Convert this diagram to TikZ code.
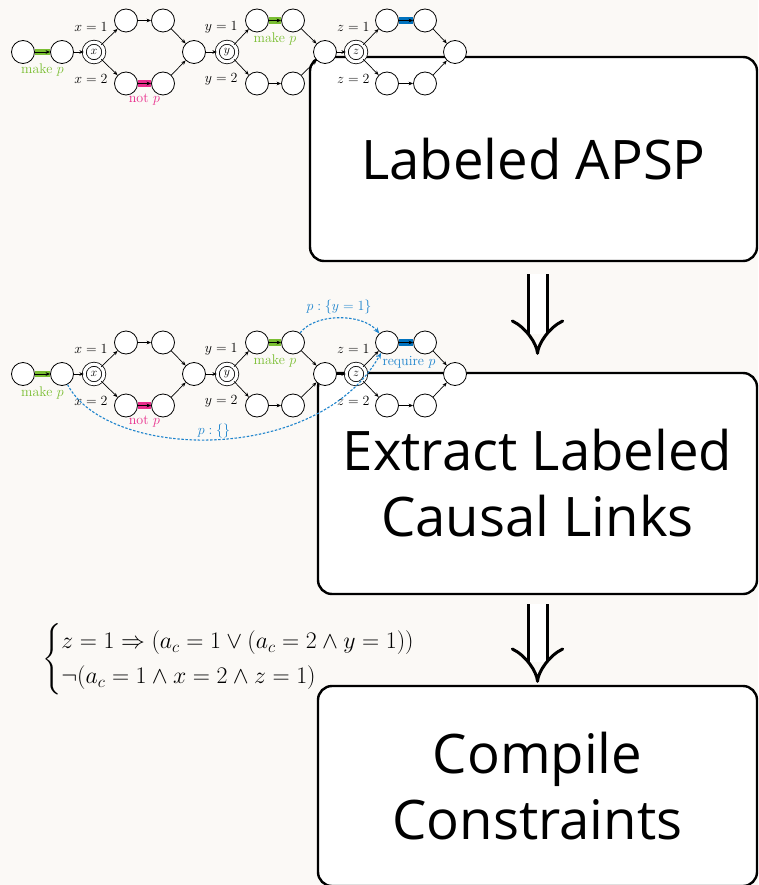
\RequirePackage{fix-cm}
\documentclass[tikz,border=0pt]{standalone}
\usepackage{amsmath,amssymb}
\usepackage{fontspec}
\newfontfamily\boxfont{Open Sans}
\usetikzlibrary{arrows.meta}

\definecolor{mkgreen}{RGB}{122,190,50}
\definecolor{notpink}{RGB}{232,45,140}
\definecolor{reqblue}{RGB}{0,114,190}
\definecolor{linkblue}{RGB}{30,132,205}
\definecolor{paper}{RGB}{251,249,246}

\begin{document}
\begin{tikzpicture}[x=1pt, y=-1pt,
  vtx/.style={circle, draw, fill=white, line width=0.8pt, minimum size=23pt, inner sep=0pt},
  varnode/.style={vtx, double, double distance=3.2pt, minimum size=19.5pt, font=\fontsize{12}{12}\selectfont},
  arr/.style={-{Stealth[length=4.5pt, width=3.6pt]}, line width=0.7pt},
  cbar/.style={line width=6.5pt, #1},
  lab/.style={font=\fontsize{14}{16}\selectfont},
  clink/.style={dash pattern=on 2.5pt off 1.6pt, line width=1.1pt, linkblue, -{Stealth[length=6pt, width=5pt]}},
  stage/.style={draw, fill=white, rounded corners=14pt, line width=2.4pt, align=center, font=\boxfont\fontsize{54.5}{66}\selectfont},
  bigimp/.style={double, double distance=16pt, line width=3pt, -{Implies}}]

 \clip (0,0) rectangle (758,885); % page
 \fill[paper] (0,0) rectangle (758,885);

 \node[stage, minimum width=447pt, minimum height=204pt] (b1) at (533.5,159) {Labeled APSP};
 \node[stage, minimum width=439pt, minimum height=221pt] (b2) at (537.5,483.5) {Extract Labeled\\Causal Links};
 \node[stage, minimum width=439pt, minimum height=200pt] (b3) at (537.5,786) {Compile\\Constraints};

 \draw[bigimp, shorten <=12pt, shorten >=17pt] (b2.north |- b1.south) -- (b2.north);
 \draw[bigimp, shorten <=9pt, shorten >=2pt] (b3.north |- b2.south) -- (b3.north);

 \node[anchor=west, inner sep=0pt, font=\fontsize{23.8}{35}\selectfont] (eq) at (42,659)
  {$\left\{\begin{array}{@{}l@{}}
    z=1 \Rightarrow (a_c=1 \lor (a_c=2 \land y=1))\\
    \lnot(a_c=1 \land x=2 \land z=1)
   \end{array}\right.$};

 % t = top graph, m = graph with links
 \foreach \g/\c in {t/52, m/374} {
  \node[vtx] (\g A) at (23,\c) {};
  \node[vtx] (\g B) at (62,\c) {};
  \node[varnode] (\g X) at (94,\c) {$x$};
  \node[vtx] (\g Xu1) at (126,{\c-31.5}) {};
  \node[vtx] (\g Xu2) at (163,{\c-31.5}) {};
  \node[vtx] (\g Xl1) at (126,{\c+31.5}) {};
  \node[vtx] (\g Xl2) at (163,{\c+31.5}) {};
  \node[vtx] (\g Xj) at (194,\c) {};
  \node[varnode] (\g Y) at (227,\c) {$y$};
  \node[vtx] (\g Yu1) at (257,{\c-31.5}) {};
  \node[vtx] (\g Yu2) at (293,{\c-31.5}) {};
  \node[vtx] (\g Yl1) at (257,{\c+31.5}) {};
  \node[vtx] (\g Yl2) at (293,{\c+31.5}) {};
  \node[vtx] (\g Yj) at (325,\c) {};
  \node[varnode] (\g Z) at (356,\c) {$z$};
  \node[vtx] (\g Zu1) at (387,{\c-31.5}) {};
  \node[vtx] (\g Zu2) at (425,{\c-31.5}) {};
  \node[vtx] (\g Zl1) at (387,{\c+31.5}) {};
  \node[vtx] (\g Zl2) at (425,{\c+31.5}) {};
  \node[vtx] (\g Zj) at (455,\c) {};

  \draw[cbar=mkgreen] (\g A) -- (\g B);
  \draw[cbar=notpink] (\g Xl1) -- (\g Xl2);
  \draw[cbar=mkgreen] (\g Yu1) -- (\g Yu2);
  \draw[cbar=reqblue] (\g Zu1) -- (\g Zu2);
  \foreach \a/\b in {A/B, B/X, X/Xu1, X/Xl1, Xu1/Xu2, Xl1/Xl2, Xu2/Xj, Xl2/Xj, Xj/Y,
                     Y/Yu1, Y/Yl1, Yu1/Yu2, Yl1/Yl2, Yu2/Yj, Yl2/Yj, Yj/Z,
                     Z/Zu1, Z/Zl1, Zu1/Zu2, Zl1/Zl2, Zu2/Zj, Zl2/Zj}
   \draw[arr] (\g\a) -- (\g\b);

  \node[lab, mkgreen] at (42.5,{\c+18.5}) {make $p$};
  \node[lab, notpink] at (144.5,{\c+48}) {not $p$};
  \node[lab, mkgreen] at (275,{\c-13}) {make $p$};
  \node[lab, anchor=east] at (111,{\c-25}) {$x=1$};
  \node[lab, anchor=east] at (111,{\c+27}) {$x=2$};
  \node[lab, anchor=east] at (241,{\c-25}) {$y=1$};
  \node[lab, anchor=east] at (241,{\c+27}) {$y=2$};
  \node[lab, anchor=east] at (373,{\c-25}) {$z=1$};
  \node[lab, anchor=east] at (373,{\c+27}) {$z=2$};
 }

 \draw[clink] (mB) .. controls (107,460) and (317,466) .. (mZu1);
 \draw[clink] (mYu2) .. controls (315,313) and (362,313) .. (mZu1);
 \node[lab, linkblue] at (339,307) {$p:\{y=1\}$}; % upper link
 \node[lab, linkblue] at (214,431) {$p:\{\}$}; % lower link
 \node[lab, linkblue] at (409,362) {require $p$};
\end{tikzpicture}
\end{document}
